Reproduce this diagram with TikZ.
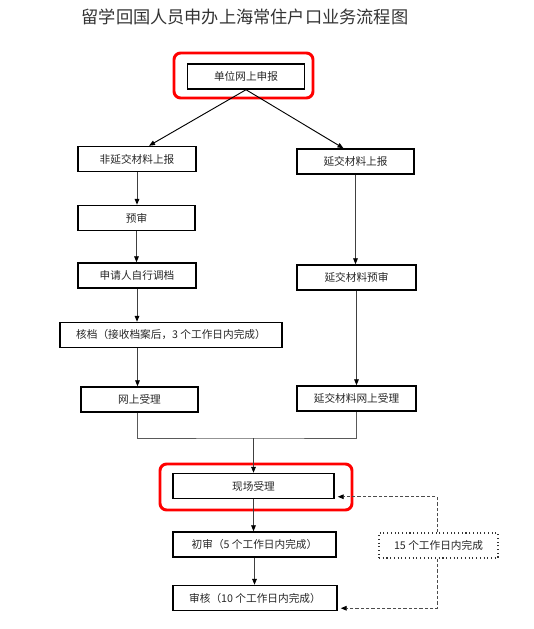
\documentclass[tikz,border=0pt]{standalone}
\usepackage{fontspec}
\newfontfamily\cjk{Noto Sans CJK SC}
\usetikzlibrary{arrows.meta,calc}
\begin{document}
\begin{tikzpicture}[x=0.75pt,y=-0.75pt,
  box/.style={draw=black, line width=1.1pt, minimum height=18.75pt, inner sep=0pt,
    font=\cjk\fontsize{8}{9}\selectfont, text=black!85},
  hl/.style={draw=red, line width=2.2pt, rounded corners=5pt},
  conn/.style={draw=black!65, line width=0.7pt},
  arr/.style={draw=black!75, line width=0.7pt, -{Triangle[length=4.5pt,width=3.5pt,black]}},
  darr/.style={draw=black!70, line width=0.7pt, dash pattern=on 2.5pt off 1.5pt, -{Triangle[length=4.5pt,width=3.5pt,black]}},
  dline/.style={draw=black!70, line width=0.7pt, dash pattern=on 2.5pt off 1.5pt}]
\useasboundingbox (0,0) rectangle (534,629);

\node[font=\cjk\fontsize{12.9}{15}\selectfont, text=black!80] (title) at (245,17) {留学回国人员申办上海常住户口业务流程图};

\node[box, minimum width=87.75pt] (top) at (246,76.5) {单位网上申报};
\draw[hl] (174,53) rectangle (313,98);

\node[box, minimum width=88.5pt] (fyj) at (137,159) {非延交材料上报};
\node[box, minimum width=87.75pt] (yj) at (355.5,161.5) {延交材料上报};
\node[box, minimum width=87.75pt] (ys) at (136.5,218) {预审};
\node[box, minimum width=88.5pt] (sq) at (137,275.5) {申请人自行调档};
\node[box, minimum width=89.25pt] (yjys) at (356.5,277.5) {延交材料预审};
\node[box, minimum width=166.5pt] (hd) at (171,335) {核档（接收档案后，3 个工作日内完成）};
\node[box, minimum width=87.75pt] (wssl) at (139.5,399.5) {网上受理};
\node[box, minimum width=89.25pt] (yjws) at (356.5,398.5) {延交材料网上受理};
\node[box, minimum width=120.75pt] (xc) at (253.5,486) {现场受理};
\draw[hl] (160,464) rectangle (352,510);
\node[box, minimum width=122.25pt] (cs) at (254.5,544.5) {初审（5 个工作日内完成）};
\node[box, minimum width=123pt] (sh) at (255,598) {审核（10 个工作日内完成）};
\node[box, draw=black!80, line width=0.8pt, dotted, minimum width=89.25pt] (d15) at (438.5,545.5) {15 个工作日内完成};

% top split
\coordinate (t1) at ($(fyj.north)+(12,0)$);
\coordinate (t2) at ($(yj.north)+(-12,0)$);
\draw[arr, draw=black] (top.south) -- (t1);
\draw[arr, draw=black] (top.south) -- (t2);

% left column
\draw[arr] (fyj.south) -- (ys.north -| fyj.south);
\draw[arr] (ys.south) -- (sq.north -| ys.south);
\draw[arr] (sq.south) -- (hd.north -| sq.south);
\draw[arr] (hd.south -| wssl.north) ++(-2,0) coordinate (h1) -- (h1 |- wssl.north);

% right column
\draw[arr] (yj.south) -- (yjys.north -| yj.south);
\draw[arr] (yjys.south) -- (yjws.north -| yjys.south);

% merge
\coordinate (m) at (253.5,438);
\coordinate (l1) at ($(wssl.south)+(-2,0)$);
\draw[conn] (l1) |- (m) -| (yjws.south);
\draw[arr] (m) -- (xc.north);

% lower column
\draw[arr] (xc.south) -- (cs.north -| xc.south);
\draw[arr] (cs.south) -- (sh.north -| cs.south);

% dashed
\coordinate (e1) at ($(xc.south east)+(3,-2.5)$);
\coordinate (e2) at ($(sh.south east)+(3,-3)$);
\draw[darr] (d15.north -| 437,0) |- (e1);
\draw[darr] (d15.south -| 437,0) |- (e2);
\end{tikzpicture}
\end{document}
